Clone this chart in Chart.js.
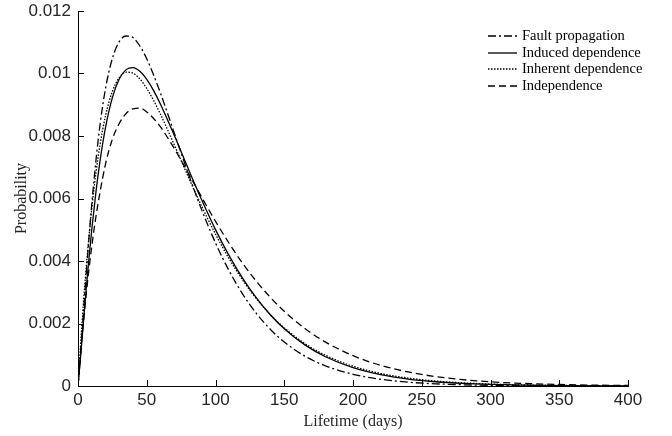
<!DOCTYPE html>
<html><head><meta charset="utf-8">
<script src="https://cdn.jsdelivr.net/npm/chart.js@4"></script>
<style>html,body{margin:0;padding:0;background:#fff}#wrap{position:relative;width:672px;height:436px}</style>
</head><body><div id="wrap"><canvas id="c"></canvas></div>
<script>
const days = [0,2,4,6,8,10,13,16,20,25,30,35,40,45,50,55,60,70,80,90,100,110,120,130,140,150,165,180,200,220,240,260,280,300,325,350,375,400];
const faultPropagation = [0,0.001099,0.002361,0.003592,0.004745,0.005803,0.007193,0.008351,0.009520,0.010480,0.011020,0.011200,0.011150,0.010880,0.010470,0.009950,0.009370,0.008100,0.006823,0.005632,0.004579,0.003679,0.002926,0.002308,0.001807,0.001407,0.000957,0.000644,0.000375,0.000216,0.000123,0.0000697,0.0000391,0.0000218,0.0000104,0.0000049,0.0000023,0.000001];
const inducedDependence = [0,0.000994,0.00208,0.003126,0.004103,0.005001,0.00619,0.007196,0.00827,0.009226,0.009823,0.010124,0.01019,0.010073,0.009814,0.009454,0.009019,0.008026,0.006973,0.00595,0.005005,0.004162,0.003428,0.002801,0.002273,0.001833,0.001316,0.000936,0.000586,0.000363,0.000223,0.000136,0.0000823,0.0000494,0.000026,0.0000135,0.000007,0.0000036];
const inherentDependence = [0,0.001414,0.002677,0.003802,0.0048,0.00568,0.006803,0.007714,0.008644,0.009426,0.009867,0.010041,0.01001,0.009824,0.009521,0.009135,0.008694,0.007719,0.006712,0.005747,0.004859,0.004066,0.003375,0.002782,0.002279,0.001859,0.001357,0.000983,0.000632,0.000403,0.000254,0.00016,0.0000995,0.0000617,0.0000338,0.0000184,0.0000099,0.0000054];
const independence = [0,0.001081,0.002062,0.002949,0.003749,0.004468,0.005408,0.006197,0.007100,0.007900,0.008400,0.008720,0.008870,0.008890,0.008770,0.008560,0.008290,0.007600,0.006830,0.006040,0.005270,0.004560,0.003910,0.003336,0.002831,0.002391,0.00184,0.001405,0.00097,0.000663,0.000449,0.000302,0.000202,0.000134,0.0000803,0.0000477,0.0000282,0.0000166];
const seriesNames = ['Fault propagation','Induced dependence','Inherent dependence','Independence'];
const xTitle = 'Lifetime (days)';
const yTitle = 'Probability';

const styles = [[8,3,2,3],[],[1.5,1.5],[7,4]];
const series = [faultPropagation, inducedDependence, inherentDependence, independence];
const datasets = series.map((arr,k)=>({
  label: seriesNames[k],
  data: days.map((d,i)=>({x:d,y:arr[i]})),
  borderColor:'#000', borderWidth:1.3, borderDash:styles[k],
  pointRadius:0, fill:false, cubicInterpolationMode:'monotone'
}));

const inwardTicks = {
  id:'inwardTicks',
  afterDraw(chart){
    const ctx = chart.ctx, a = chart.chartArea;
    const xs = chart.scales.x, ys = chart.scales.y;
    ctx.save();
    ctx.strokeStyle = '#000'; ctx.lineWidth = 1;
    ctx.beginPath();
    xs.ticks.forEach(t=>{ const px = Math.round(xs.getPixelForValue(t.value))+0.5; ctx.moveTo(px,a.bottom); ctx.lineTo(px,a.bottom-6); });
    ys.ticks.forEach(t=>{ const py = Math.round(ys.getPixelForValue(t.value))+0.5; ctx.moveTo(a.left,py); ctx.lineTo(a.left+6,py); });
    ctx.stroke();
    // legend
    ctx.font = '14.5px "Liberation Serif", "Times New Roman", serif';
    ctx.fillStyle = '#000'; ctx.textBaseline = 'middle'; ctx.textAlign = 'left';
    const rows = [36,53,69,86];
    datasets.forEach((ds,k)=>{
      const y = rows[k];
      ctx.setLineDash(ds.borderDash); ctx.lineWidth = 1.3;
      ctx.beginPath(); ctx.moveTo(488,y); ctx.lineTo(517,y); ctx.stroke();
      ctx.setLineDash([]);
      ctx.fillText(ds.label, 522, y);
    });
    ctx.restore();
  }
};

new Chart(document.getElementById('c'), {
  type:'line',
  data:{datasets},
  options:{
    responsive:true, maintainAspectRatio:false, animation:false,
    layout:{padding:{left:0,right:44,top:11,bottom:0}},
    plugins:{legend:{display:false}, tooltip:{enabled:false}},
    scales:{
      x:{type:'linear', min:0, max:400,
        ticks:{stepSize:50, padding:4, color:'#262626', font:{family:'"Liberation Sans", Arial, sans-serif', size:17}},
        grid:{display:false, drawTicks:false},
        border:{display:true, color:'#000', width:1},
        title:{display:true, text:xTitle, color:'#262626', font:{family:'"Liberation Serif", "Times New Roman", serif', size:16}, padding:{top:2,bottom:5}},
        afterFit(s){ s.height = 50; s.paddingLeft = 0; s.paddingRight = 0; }
      },
      y:{min:0, max:0.012,
        ticks:{stepSize:0.002, padding:7, color:'#262626', font:{family:'"Liberation Sans", Arial, sans-serif', size:17},
          callback:v=>String(+v.toFixed(3))},
        grid:{display:false, drawTicks:false},
        border:{display:true, color:'#000', width:1},
        title:{display:true, text:yTitle, color:'#262626', font:{family:'"Liberation Serif", "Times New Roman", serif', size:16}, padding:{top:12,bottom:0}},
        afterFit(s){ s.width = 78; s.paddingTop = 0; s.paddingBottom = 0; }
      }
    }
  },
  plugins:[inwardTicks]
});
</script></body></html>
